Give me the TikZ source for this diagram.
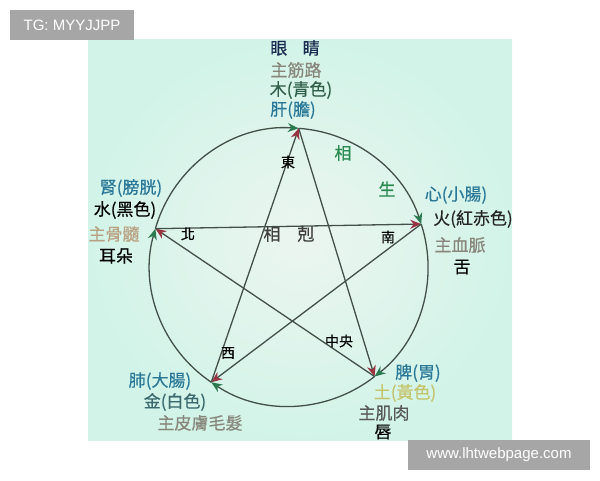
\documentclass[tikz,border=0pt]{standalone}
\usepackage{fontspec}
\setmainfont{Noto Sans CJK TC}[FakeBold=0.5]
\newfontfamily\latinsans{Liberation Sans}
\usetikzlibrary{arrows.meta,calc}
\definecolor{mint}{HTML}{D2F4E8}
\definecolor{mintc}{HTML}{ECF5F0}
\definecolor{lineg}{HTML}{44504A}
\definecolor{tipred}{HTML}{9A3440}
\definecolor{tipgreen}{HTML}{2A7A50}
\definecolor{navy}{HTML}{1A2A50}
\definecolor{teal}{HTML}{2A7898}
\definecolor{grayt}{HTML}{88867A}
\definecolor{tan}{HTML}{B8A080}
\definecolor{yel}{HTML}{C4C46A}
\definecolor{goldt}{HTML}{3A6A70}
\definecolor{greent}{HTML}{2A8A50}
\definecolor{woodt}{HTML}{2F5F48}
\definecolor{boxgray}{HTML}{A6A6A6}
\tikzset{
  lbl/.style={inner sep=0pt, font=\fontsize{17}{19}\selectfont},
  dir/.style={inner sep=0pt, text=black, font=\fontsize{14}{16}\selectfont},
  ke/.style={draw=lineg, line width=1.3pt, -{Stealth[length=11pt,width=9pt,color=tipred]}},
  sheng/.style={draw=lineg, line width=1.3pt, -{Stealth[length=11pt,width=9pt,color=tipgreen]}},
  tag/.style={fill=boxgray, text=white, inner sep=0pt, font=\latinsans\fontsize{15}{17}\selectfont}
}
\begin{document}
\begin{tikzpicture}[x=1pt,y=1pt]
\useasboundingbox (0,0) rectangle (600,480);
\fill[white] (0,0) rectangle (600,480);
% mint panel
\shade[inner color=mintc, outer color=mint] (88,40) rectangle (512,440);
% points on the circle
\coordinate (C) at (289,213);
\coordinate (T) at ($(C)+(86:139)$);
\coordinate (R) at ($(C)+(18:139)$);
\coordinate (BR) at ($(C)+(308:139)$);
\coordinate (BL) at ($(C)+(236:139)$);
\coordinate (L) at ($(C)+(164:139)$);
% xiang sheng arcs (clockwise)
\draw[sheng] (T) arc[start angle=86, end angle=18, radius=139];
\draw[sheng] (R) arc[start angle=18, end angle=-52, radius=139];
\draw[sheng] (BR) arc[start angle=-52, end angle=-124, radius=139];
\draw[sheng] (BL) arc[start angle=-124, end angle=-196, radius=139];
\draw[sheng] (L) arc[start angle=164, end angle=86, radius=139];
% xiang ke star
\draw[ke] (T) -- (BR);
\draw[ke] (BR) -- (L);
\draw[ke] (L) -- (R);
\draw[ke] (R) -- (BL);
\draw[ke] (BL) -- (T);
% top: wood
\node[lbl, text=navy] (eye) at (295,432) {眼\hspace{0.9em}睛};
\node[lbl, text=grayt] (jin) at (296,410) {主筋路};
\node[lbl, text=woodt] (mu) at (301,390) {木(青色)};
\node[lbl, text=teal] (gan) at (293,370) {肝(膽)};
% right: fire
\node[lbl, text=teal] (xin) at (456,285) {心(小腸)};
\node[lbl, text=black!85] (huo) at (473,261) {火(紅赤色)};
\node[lbl, text=grayt] (xue) at (460,235) {主血脈};
\node[lbl, text=black] (she) at (462,213) {舌};
% left: water
\node[lbl, text=teal] (shen) at (131,292) {腎(膀胱)};
\node[lbl, text=black] (shui) at (125,270) {水(黑色)};
\node[lbl, text=tan] (gu) at (114,246) {主骨髓};
\node[lbl, text=black] (er) at (116,224) {耳朵};
% bottom-left: metal
\node[lbl, text=teal] (fei) at (160,99) {肺(大腸)};
\node[lbl, text=goldt] (jinm) at (175,78) {金(白色)};
\node[lbl, text=grayt] (pi) at (200,57) {主皮膚毛髮};
% bottom-right: earth
\node[lbl, text=teal] (piw) at (418,107) {脾(胃)};
\node[lbl, text=yel] (tu) at (405,87) {土(黃色)};
\node[lbl, text=black!65] (ji) at (384,67) {主肌肉};
\node[lbl, text=black] (chun) at (383,48) {唇};
% directions
\node[dir] (dong) at (288,318) {東};
\node[dir] (bei) at (188,246) {北};
\node[dir] (nan) at (388,243) {南};
\node[dir] (xi) at (228,127) {西};
\node[dir] (zy) at (339,139) {中央};
\node[lbl, text=black!75] (xk) at (289,246) {相\hspace{1em}剋};
\node[lbl, text=greent] (xs1) at (343,327) {相};
\node[lbl, text=greent] (xs2) at (387,291) {生};
% watermark tags
\node[tag, minimum width=124pt, minimum height=30pt] (tg) at (72,455) {TG: MYYJJPP};
\node[tag, minimum width=182pt, minimum height=30pt] (web) at (499,25) {www.lhtwebpage.com};
\end{tikzpicture}
\end{document}
